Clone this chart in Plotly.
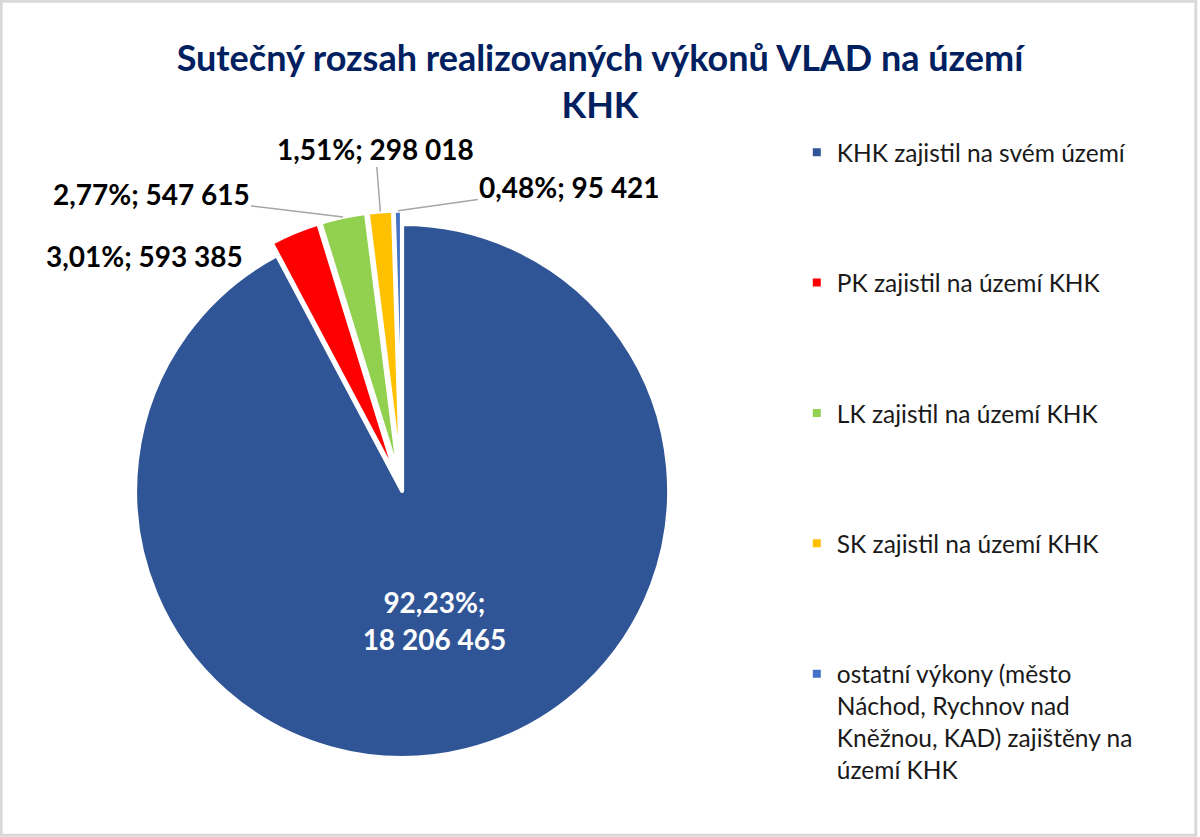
import math
import plotly.graph_objects as go

# data
labels = [
    "KHK zajistil na svém území",
    "PK zajistil na území KHK",
    "LK zajistil na území KHK",
    "SK zajistil na území KHK",
    "ostatní výkony (město<br>Náchod, Rychnov nad<br>Kněžnou, KAD) zajištěny na<br>území KHK",
]
values = [18206465, 593385, 547615, 298018, 95421]
colors = ["#2F5597", "#FF0000", "#92D050", "#FFC000", "#4472C4"]
pulls = [0, 0.05, 0.05, 0.05, 0.05]

title_text = "Sutečný rozsah realizovaných výkonů VLAD na území<br>KHK"

W, H = 1200, 837
FONT = "Lato"
PIE_X = [0.1014, 0.5688]
PIE_Y = [0.0785, 0.7483]

# pixel offsets of the outside labels from the slice edge (style only)
label_offsets = [None, (-50, 24, False), (-192, -23, True), (-5, -63, True), (172, -24, True)]


def legend_label(lbl):
    # pad short entries to four lines so the legend rows spread out like the original
    n = lbl.count("<br>")
    return lbl + "<br>&nbsp;" * (3 - n)


def fmt_label(v, total):
    pct = f"{100 * v / total:.2f}".replace(".", ",")
    num = f"{v:,}".replace(",", " ")
    return f"{pct}%; {num}"


fig = go.Figure()
fig.add_trace(go.Pie(
    labels=[legend_label(l) for l in labels],
    values=values,
    sort=False,
    direction="clockwise",
    rotation=0,
    pull=pulls,
    marker=dict(colors=colors, line=dict(color="white", width=4)),
    texttemplate=["%{percent:.2%};<br>%{value:,}", "", "", "", ""],
    textposition="inside",
    insidetextfont=dict(family=FONT, size=28, color="white", weight="bold"),
    insidetextorientation="horizontal",
    domain=dict(x=PIE_X, y=PIE_Y),
    hoverinfo="label+value+percent",
))

# outside labels, anchored on the outer edge of each slice
total = sum(values)
cx = (PIE_X[0] + PIE_X[1]) / 2 * W
cy = (1 - (PIE_Y[0] + PIE_Y[1]) / 2) * H
rad = min((PIE_X[1] - PIE_X[0]) * W, (PIE_Y[1] - PIE_Y[0]) * H) / 2 / (1 + max(pulls))
cum = 0
for v, p, off in zip(values, pulls, label_offsets):
    theta = 2 * math.pi * (cum + v / 2) / total
    cum += v
    if off is None:
        continue
    rr = rad * (1 + p)
    px = cx + rr * math.sin(theta)
    py = cy - rr * math.cos(theta)
    dx, dy, arrow = off
    if arrow:
        fig.add_annotation(
            x=px / W, y=1 - py / H, xref="paper", yref="paper",
            text=fmt_label(v, total), showarrow=True,
            ax=dx, ay=dy, arrowhead=0, arrowwidth=1.5, arrowcolor="#a6a6a6",
            font=dict(family=FONT, size=28, color="black", weight="bold"),
        )
    else:
        fig.add_annotation(
            x=px / W, y=1 - py / H, xref="paper", yref="paper",
            text=fmt_label(v, total), showarrow=False,
            xanchor="right", yanchor="middle", xshift=dx, yshift=-dy,
            font=dict(family=FONT, size=28, color="black", weight="bold"),
        )

fig.add_shape(
    type="rect", xref="paper", yref="paper",
    x0=0.001, x1=0.9965, y0=0.002, y1=0.9985,
    line=dict(color="#d9d9d9", width=3),
)

fig.update_layout(
    width=W,
    height=H,
    paper_bgcolor="white",
    plot_bgcolor="white",
    separators=", ",
    margin=dict(l=0, r=0, t=0, b=0),
    title=dict(
        text=title_text,
        x=0.5, xanchor="center",
        y=0.915, yanchor="top",
        font=dict(family=FONT, size=36, color="#002060", weight="bold"),
    ),
    legend=dict(
        x=0.664, xanchor="left",
        y=0.845, yanchor="top",
        valign="top",
        font=dict(family=FONT, size=24.5, color="#1a1a1a"),
        bgcolor="rgba(0,0,0,0)",
    ),
)

fig.write_html("out.html", config={"displayModeBar": False},
               post_script="document.body.style.margin='0';")
